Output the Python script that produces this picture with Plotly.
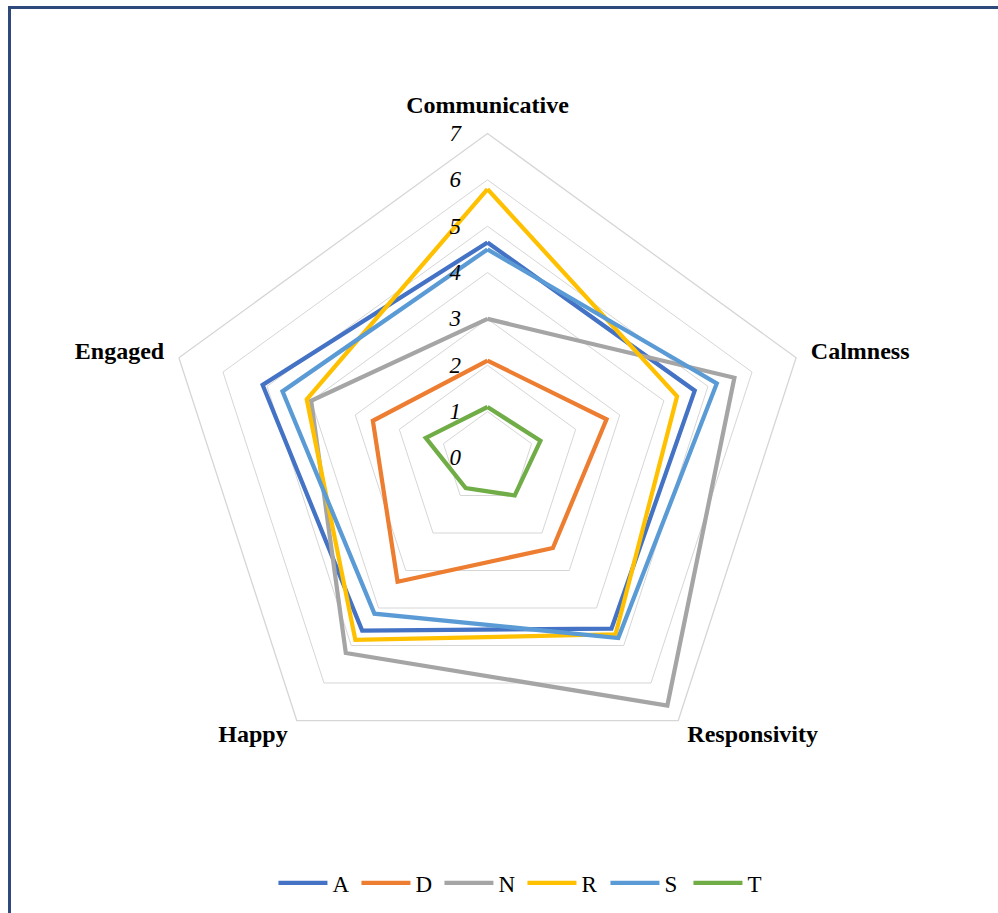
import plotly.graph_objects as go

categories = ["Communicative", "Calmness", "Responsivity", "Happy", "Engaged"]
series_names = ["A", "D", "N", "R", "S", "T"]
A = [4.65, 4.7, 4.55, 4.6, 5.1]
D = [2.1, 2.7, 2.4, 3.3, 2.6]
N = [3.0, 5.6, 6.6, 5.2, 4.0]
R = [5.8, 4.3, 4.7, 4.85, 4.1]
S = [4.5, 5.2, 4.8, 4.15, 4.65]
T = [1.1, 1.2, 1.0, 0.8, 1.4]
radial_ticks = [0, 1, 2, 3, 4, 5, 6, 7]

colors = ["#4472C4", "#ED7D31", "#A5A5A5", "#FFC000", "#5B9BD5", "#70AD47"]
values = [A, D, N, R, S, T]

fig = go.Figure()
for name, vals, col in zip(series_names, values, colors):
    fig.add_trace(go.Scatterpolar(
        r=vals + [vals[0]],
        theta=categories + [categories[0]],
        mode="lines",
        name=name,
        line=dict(color=col, width=4.25),
    ))

W, H = 998, 913
cx, cy, rad = 487.5, 458.0, 324.5

# blank trailing lines lift the lower labels slightly (label placement only)
angular_text = [c + ("<br> " * 5 if c in ("Responsivity", "Happy") else "") for c in categories]

fig.update_layout(
    width=W, height=H,
    margin=dict(l=0, r=0, t=0, b=0),
    paper_bgcolor="white",
    font=dict(family="Liberation Serif, Times New Roman, serif", color="black"),
    polar=dict(
        domain=dict(x=[(cx - rad) / W, (cx + rad) / W],
                    y=[1 - (cy + rad) / H, 1 - (cy - rad) / H]),
        bgcolor="white",
        gridshape="linear",
        angularaxis=dict(
            rotation=90, direction="clockwise",
            tickmode="array", tickvals=categories, ticktext=angular_text,
            showgrid=False, showline=True, linecolor="#D6D6D6", linewidth=1.3,
            ticks="outside", ticklen=10, tickcolor="rgba(0,0,0,0)",
            tickfont=dict(family="Liberation Serif", size=24, color="black", weight="bold"),
        ),
        radialaxis=dict(
            range=[0, 7], tickvals=radial_ticks, ticktext=[str(v) for v in radial_ticks],
            angle=90, tickangle=90, side="counterclockwise",
            showline=False, ticks="outside", ticklen=18, tickcolor="rgba(0,0,0,0)",
            gridcolor="#D6D6D6", gridwidth=1.3,
            tickfont=dict(family="Liberation Serif", size=23, color="black", style="italic"),
        ),
    ),
    legend=dict(
        orientation="h", x=0.5235, xanchor="center", y=1 - 883 / H, yanchor="middle",
        font=dict(family="Liberation Serif", size=23, color="black"),
        itemwidth=49, entrywidth=19, entrywidthmode="pixels",
        bgcolor="rgba(0,0,0,0)",
    ),
    shapes=[
        dict(type="line", xref="paper", yref="paper", x0=9.5 / W, x1=1.02,
             y0=1 - 7.5 / H, y1=1 - 7.5 / H, line=dict(color="#2E4A7D", width=3)),
        dict(type="line", xref="paper", yref="paper", x0=9.5 / W, x1=9.5 / W,
             y0=1 - 6 / H, y1=-0.02, line=dict(color="#2E4A7D", width=3)),
    ],
)

fig.write_html("out.html")
